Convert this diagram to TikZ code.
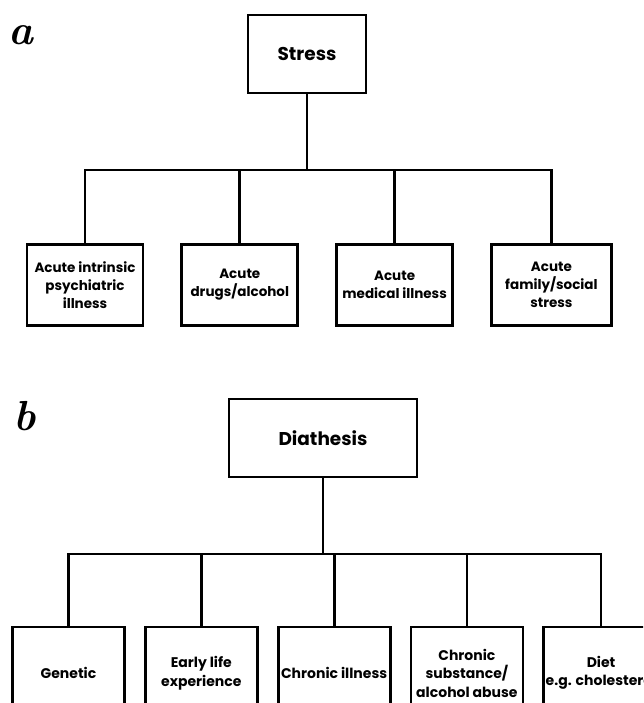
\documentclass[tikz,border=0pt]{standalone}
\usepackage{fontspec}
\newfontfamily\boxfont{Poppins}
\usepackage{tikz}
\usetikzlibrary{positioning}

\begin{document}
\begin{tikzpicture}[x=1pt, y=-1pt,
  box/.style={draw, line width=2.8pt, minimum width=116pt, minimum height=81pt, align=center, font=\boxfont\bfseries\fontsize{13.5}{18}\selectfont, inner sep=2pt},
  root/.style={box, minimum height=78pt, font=\boxfont\bfseries\fontsize{18.5}{22}\selectfont},
  cause/.style={box, minimum width=112pt, minimum height=92pt, font=\boxfont\bfseries\fontsize{14}{18.5}\selectfont},
  panel/.style={font=\fontsize{42}{42}\selectfont\bfseries\itshape, inner sep=0pt},
  link/.style={line width=2.8pt}]
\useasboundingbox (0,0) rectangle (643,703);
\clip (0,0) rectangle (643,703);
\node[panel] (a) at (21,35) {a};
\node[root, minimum width=118pt] (stress) at (307,54) {Stress};
\coordinate (topbar) at (0,170);
\node[box] (acute1) at (85,285) {Acute intrinsic\\psychiatric\\illness};
\node[box, right=36pt of acute1] (acute2) {Acute\\drugs/alcohol};
\node[box, right=36pt of acute2] (acute3) {Acute\\medical illness};
\node[box, minimum width=120pt, right=36pt of acute3] (acute4) {Acute\\family/social\\stress};
\draw[link] (stress) -- (stress |- topbar);
\draw[link] (acute1.north) |- (topbar -| acute4.north) -- (acute4.north);
\draw[link] (acute2.north) -- (acute2.north |- topbar); \draw[link] (acute3.north) -- (acute3.north |- topbar);
\node[panel] (b) at (25,416) {b};
\node[root, minimum width=188pt] (diathesis) at (323,438) {Diathesis};
\coordinate (lowbar) at (0,554);
\node[cause] (genetic) at (68.5,673) {Genetic};
\node[cause, right=18pt of genetic] (early) {Early life\\experience};
\node[cause, right=18pt of early] (chronic) {Chronic illness};
\node[cause, right=18pt of chronic] (abuse) {Chronic\\substance/\\alcohol abuse};
\node[cause, right=18pt of abuse] (diet) {Diet\\e.g. cholesterol};
\draw[link] (diathesis) -- (diathesis |- lowbar);
\draw[link] (genetic.north) |- (lowbar -| diet.north) -- (diet.north);
\draw[link] (early.north) -- (early.north |- lowbar); \draw[link] (chronic.north) -- (chronic.north |- lowbar); \draw[link] (abuse.north) -- (abuse.north |- lowbar);
\end{tikzpicture}
\end{document}
